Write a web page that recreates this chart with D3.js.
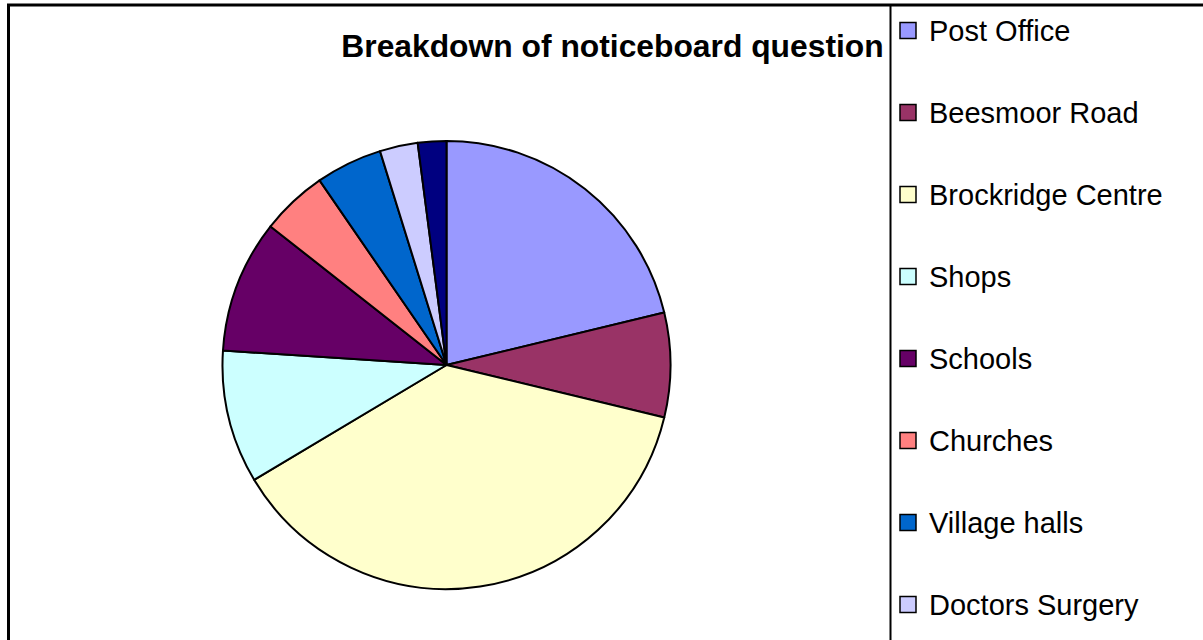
<!DOCTYPE html>
<html>
<head>
<meta charset="utf-8">
<script src="https://cdn.jsdelivr.net/npm/d3@7/dist/d3.min.js"></script>
<style>
html, body { margin: 0; padding: 0; background: #fff; overflow: hidden; }
svg { display: block; }
</style>
</head>
<body>
<svg id="chart" width="1203" height="640"></svg>
<script>
const categories = ["Post Office", "Beesmoor Road", "Brockridge Centre", "Shops", "Schools", "Churches", "Village halls", "Doctors Surgery", "Other"];
const values = [31, 11, 55, 14, 14, 7, 7, 4, 3];
const colors = ["#9999FF", "#993366", "#FFFFCC", "#CCFFFF", "#660066", "#FF8080", "#0066CC", "#CCCCFF", "#000080"];
const title = "Breakdown of noticeboard question";

const svg = d3.select("#chart");
const W = 1203, H = 640;

svg.append("rect").attr("width", W).attr("height", H).attr("fill", "#fff");

// outer border (extends beyond right/bottom edges)
svg.append("rect")
  .attr("x", 8.5).attr("y", 5)
  .attr("width", W + 20).attr("height", H + 20)
  .attr("fill", "none").attr("stroke", "#000").attr("stroke-width", 3);

// title
svg.append("text")
  .attr("x", 612.5).attr("y", 57)
  .attr("text-anchor", "middle")
  .attr("font-family", "Liberation Sans, Arial, sans-serif")
  .attr("font-weight", "bold")
  .attr("font-size", 31.8)
  .attr("fill", "#000")
  .text(title);

// pie
const cx = 446.5, cy = 365, r = 224;
const pie = d3.pie().sort(null).value(d => d.v);
const arc = d3.arc().innerRadius(0).outerRadius(r);
const data = categories.map((c, i) => ({ c, v: values[i], col: colors[i] }));
const g = svg.append("g").attr("transform", `translate(${cx},${cy})`);
g.selectAll("path").data(pie(data)).join("path")
  .attr("d", arc)
  .attr("fill", d => d.data.col)
  .attr("stroke", "#000")
  .attr("stroke-width", 2)
  .attr("stroke-linejoin", "round");

// legend box
svg.append("rect")
  .attr("x", 890.5).attr("y", 5)
  .attr("width", 400).attr("height", H + 20)
  .attr("fill", "none").attr("stroke", "#000").attr("stroke-width", 2);

const yScale = d3.scalePoint().domain(categories).range([31, 31 + 82 * (categories.length - 1)]);
// legend is clipped by the chart area: only entries that fit are shown
const legData = data.filter(d => yScale(d.c) < H);
const leg = svg.append("g");
const items = leg.selectAll("g").data(legData).join("g")
  .attr("transform", d => `translate(0,${yScale(d.c)})`);
items.append("rect")
  .attr("x", 900).attr("y", -8.5)
  .attr("width", 16).attr("height", 16)
  .attr("fill", d => d.col)
  .attr("stroke", "#000").attr("stroke-width", 1.5);
items.append("text")
  .attr("x", 929).attr("y", 9.5)
  .attr("font-family", "Liberation Sans, Arial, sans-serif")
  .attr("font-size", 29)
  .attr("fill", "#000")
  .text(d => d.c);
</script>
</body>
</html>
